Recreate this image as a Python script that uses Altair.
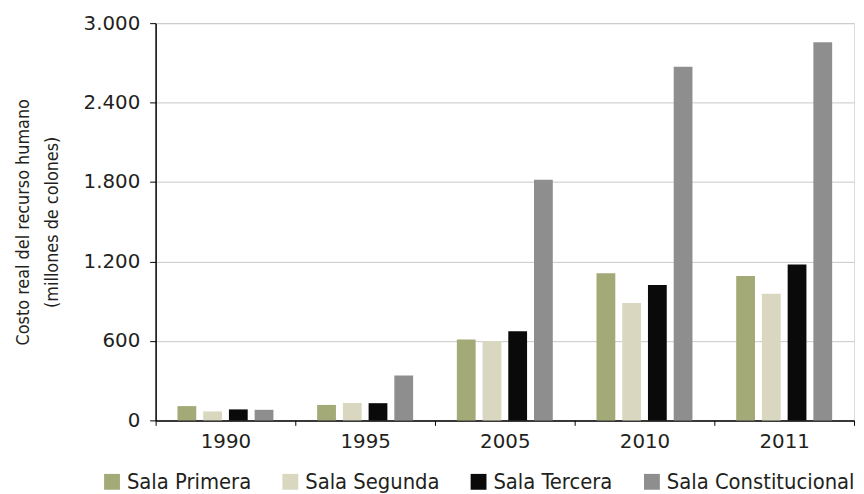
import altair as alt
import pandas as pd

years = ["1990", "1995", "2005", "2010", "2011"]
salas = ["Sala Primera", "Sala Segunda", "Sala Tercera", "Sala Constitucional"]
primera = [108, 117, 611, 1111, 1091]
segunda = [68, 132, 599, 886, 956]
tercera = [83, 130, 674, 1023, 1178]
constitucional = [80, 340, 1817, 2670, 2856]
colors = ["#a3a977", "#d9d7bf", "#0a0a0a", "#8e8e8e"]
y_ticks = [0, 600, 1200, 1800, 2400, 3000]

rows = []
for serie, vals in zip(salas, [primera, segunda, tercera, constitucional]):
    for yr, v in zip(years, vals):
        rows.append({"Año": yr, "Sala": serie, "Valor": v})
df = pd.DataFrame(rows)

label_font = "DejaVu Sans"
cond_font = "DejaVu Sans Condensed"

chart = alt.Chart(df).mark_bar().encode(
    x=alt.X("Año:N", sort=years,
            scale=alt.Scale(paddingInner=0, paddingOuter=0),
            axis=alt.Axis(title=None, labelAngle=0, tickBand="extent",
                          tickSize=5, tickColor="#000", domainColor="#000",
                          domainWidth=1.5, labelFont=label_font, labelFontSize=20,
                          labelColor="#231f20", labelPadding=6)),
    xOffset=alt.XOffset("Sala:N", sort=salas,
                        scale=alt.Scale(paddingInner=0.27, paddingOuter=0.85)),
    y=alt.Y("Valor:Q", scale=alt.Scale(domain=[0, 3000], nice=False),
            axis=alt.Axis(values=y_ticks,
                          labelExpr="replace(format(datum.value, ','), ',', '.')",
                          title=["Costo real del recurso humano", "(millones de colones)"],
                          titleFont=cond_font, titleFontSize=18, titleFontWeight="normal",
                          titleColor="#231f20", titleLineHeight=29, titlePadding=22,
                          tickSize=6, tickColor="#000", domainColor="#000",
                          domainWidth=1.5, labelFont=label_font, labelFontSize=20,
                          labelColor="#231f20", labelPadding=10,
                          grid=True, gridColor="#c8c8c8", gridWidth=1)),
    color=alt.Color("Sala:N", sort=salas,
                    scale=alt.Scale(domain=salas, range=colors),
                    legend=alt.Legend(title=None, orient="none", direction="horizontal",
                                      legendX=-55, legendY=452,
                                      symbolType="square", symbolSize=256,
                                      symbolStrokeWidth=0, columnPadding=28,
                                      labelFont=cond_font, labelFontSize=22,
                                      labelLimit=400,
                                      labelColor="#231f20", labelOffset=4)),
).properties(
    width=705,
    height=401,
    autosize=alt.AutoSizeParams(type="none"),
    padding={"left": 149, "top": 13, "right": 2, "bottom": 72},
).configure_view(stroke=None).configure(background="white")

chart.save("out.html", embed_options={"renderer": "svg", "actions": False})
